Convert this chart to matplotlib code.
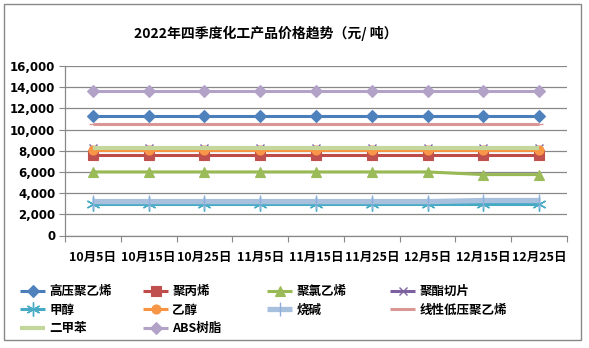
import matplotlib
matplotlib.use('Agg')
import matplotlib.pyplot as plt
from matplotlib.patches import Rectangle

plt.rcParams['font.family'] = ['Noto Sans CJK SC', 'DejaVu Sans']

# ---- data ----
dates = ['10月5日', '10月15日', '10月25日', '11月5日', '11月15日',
         '11月25日', '12月5日', '12月15日', '12月25日']
ldpe    = [11300] * 9                       # 高压聚乙烯
pp      = [7600] * 9                        # 聚丙烯
pvc     = [6000] * 7 + [5750, 5750]         # 聚氯乙烯
pet     = [8250] * 9                        # 聚酯切片
meoh    = [3000] * 9                        # 甲醇
etoh    = [8100] * 9                        # 乙醇
naoh    = [3200] * 7 + [3300, 3300]         # 烧碱
lldpe   = [10500] * 9                       # 线性低压聚乙烯
xylene  = [8300] * 9                        # 二甲苯
abs_    = [13600] * 9                       # ABS树脂

series = [
    ('高压聚乙烯', ldpe, '#4A7EBB', 'D', '#4F81BD', 6, 2.2),
    ('聚丙烯', pp, '#BE4B48', 's', '#C0504D', 7, 2.2),
    ('聚氯乙烯', pvc, '#98B954', '^', '#9BBB59', 7.5, 2.2),
    ('聚酯切片', pet, '#7D60A0', 'x', '#8064A2', 6, 2.2),
    ('甲醇', meoh, '#46AAC5', (6, 2, 0), '#4BACC6', 10, 2.2),
    ('乙醇', etoh, '#F69240', 'o', '#F79646', 6.5, 2.2),
    ('烧碱', naoh, '#A7C0DE', '|', '#8FAEDB', 10, 3.8),
    ('线性低压聚乙烯', lldpe, '#D99694', '_', '#D99694', 6, 2.2),
    ('二甲苯', xylene, '#C3D69B', None, '#C3D69B', 6, 3.0),
    ('ABS树脂', abs_, '#B3A2C7', 'D', '#B3A2C7', 6, 2.2),
]

fig = plt.figure(figsize=(5.89, 3.48), dpi=100)
W, H = 589, 348
fig.patches.append(Rectangle((4 / W, 8 / H), 577 / W, 336 / H, transform=fig.transFigure,
                             fill=False, edgecolor='#888888', lw=1.0))

ax = fig.add_axes([65 / W, 1 - 235.5 / H, 502 / W, 169.5 / H])
x = list(range(len(dates)))
handles = []
for name, vals, col, mk, mcol, ms, lw in series:
    thin = mk in ('x', '|', '_') or isinstance(mk, tuple)
    h, = ax.plot(x, vals, color=col, lw=lw, marker=mk, ms=ms, mfc=mcol, mec=mcol,
                 mew=1.0 if thin else 0.8, label=name, solid_capstyle='butt')
    handles.append(h)

ax.set_xlim(-0.5, len(dates) - 0.5)
ax.set_ylim(0, 16000)
ax.set_yticks(range(0, 16001, 2000))
ax.set_yticklabels([f'{v:,}' for v in range(0, 16001, 2000)], fontsize=8.5,
                   fontweight='bold', family='DejaVu Sans')
ax.set_xticks([i - 0.5 for i in range(len(dates) + 1)])
ax.set_xticklabels([])
ax.set_xticks(x, minor=True)
ax.set_xticklabels(dates, minor=True, fontsize=9, fontweight='bold')
ax.tick_params(axis='x', which='minor', length=0, pad=11)
ax.tick_params(axis='x', which='major', length=4, color='#888888', direction='out')
ax.tick_params(axis='y', length=4, color='#888888', direction='out', pad=3)
ax.grid(axis='y', color='#888888', lw=0.9)
ax.set_axisbelow(True)
for s in ['top', 'right']:
    ax.spines[s].set_visible(False)
for s in ['left', 'bottom']:
    ax.spines[s].set_color('#888888')
    ax.spines[s].set_linewidth(0.9)

fig.text(266 / W, 1 - 33 / H, '2022年四季度化工产品价格趋势（元/ 吨）',
         ha='center', va='center', fontsize=10, fontweight='bold')

# legend: four columns, row-major order as in the reference
col_x = [20, 143, 267, 390]
for c in range(4):
    idx = list(range(c, len(handles), 4))
    leg = fig.legend([handles[i] for i in idx], [series[i][0] for i in idx],
                     loc='upper left', bbox_to_anchor=(col_x[c] / W, 1 - 285 / H),
                     frameon=False, fontsize=9, handlelength=2.0, handletextpad=0.35,
                     labelspacing=0.45, borderpad=0, borderaxespad=0)
    for t in leg.get_texts():
        t.set_fontweight('bold')

fig.savefig('out.png', dpi=100)
